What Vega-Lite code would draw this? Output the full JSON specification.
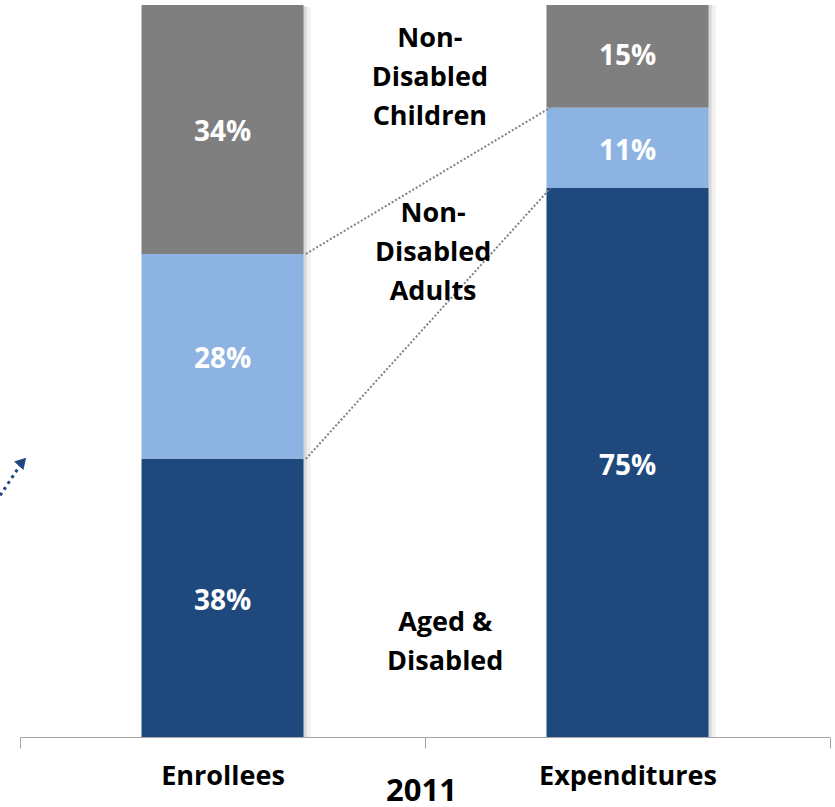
{
  "$schema": "https://vega.github.io/schema/vega-lite/v6.json",
  "width": 810,
  "height": 732,
  "autosize": "none",
  "padding": {"left": 20, "top": 5, "right": 5, "bottom": 70},
  "background": "white",
  "config": {"view": {"stroke": null}, "font": "Open Sans"},
  "datasets": {
    "bars": [
      {"cat": "Enrollees", "group": "Aged & Disabled", "ord": 1, "value": 38, "label": "38%"},
      {"cat": "Enrollees", "group": "Non-Disabled Adults", "ord": 2, "value": 28, "label": "28%"},
      {"cat": "Enrollees", "group": "Non-Disabled Children", "ord": 3, "value": 34, "label": "34%"},
      {"cat": "Expenditures", "group": "Aged & Disabled", "ord": 1, "value": 75, "label": "75%"},
      {"cat": "Expenditures", "group": "Non-Disabled Adults", "ord": 2, "value": 11, "label": "11%"},
      {"cat": "Expenditures", "group": "Non-Disabled Children", "ord": 3, "value": 15, "label": "15%"}
    ],
    "links": [
      {"link": "top", "lx": 0.706, "ly": 66},
      {"link": "top", "lx": 1.31, "ly": 86},
      {"link": "bottom", "lx": 0.706, "ly": 38},
      {"link": "bottom", "lx": 1.31, "ly": 75}
    ],
    "groups": [
      {"name": ["Non-", "Disabled", "Children"], "px": 1.012, "py": 95.4},
      {"name": ["Non-", "Disabled", "Adults"], "px": 1.02, "py": 71.4},
      {"name": ["Aged &", "Disabled"], "px": 1.05, "py": 15.6}
    ],
    "arrow": [
      {"ax": -0.049, "ay": 33.0, "part": "tail"},
      {"ax": 0.006, "ay": 37.6, "part": "tip"}
    ]
  },
  "layer": [
    {
      "data": {"name": "bars"},
      "mark": {"type": "bar", "clip": true, "color": "black", "opacity": 0.06, "xOffset": 7, "yOffset": 2},
      "encoding": {
        "x": {"field": "cat", "type": "nominal", "sort": null, "scale": {"paddingInner": 0.6, "paddingOuter": 0.3}, "axis": null},
        "y": {"field": "value", "type": "quantitative", "stack": "zero", "scale": {"domain": [0, 100], "nice": false}, "axis": null},
        "order": {"field": "ord"}
      }
    },
    {
      "data": {"name": "bars"},
      "mark": {"type": "bar", "clip": true, "color": "black", "opacity": 0.1, "xOffset": 3, "yOffset": 1},
      "encoding": {
        "x": {"field": "cat", "type": "nominal", "sort": null, "scale": {"paddingInner": 0.6, "paddingOuter": 0.3}, "axis": null},
        "y": {"field": "value", "type": "quantitative", "stack": "zero", "scale": {"domain": [0, 100], "nice": false}, "axis": null},
        "order": {"field": "ord"}
      }
    },
    {
      "data": {"name": "bars"},
      "mark": {"type": "bar", "clip": true},
      "encoding": {
        "x": {"field": "cat", "type": "nominal", "sort": null, "scale": {"paddingInner": 0.6, "paddingOuter": 0.3}, "axis": null},
        "y": {
          "field": "value", "type": "quantitative", "stack": "zero",
          "scale": {"domain": [0, 100], "nice": false}, "axis": null
        },
        "order": {"field": "ord"},
        "color": {
          "field": "group", "type": "nominal",
          "scale": {"domain": ["Aged & Disabled", "Non-Disabled Adults", "Non-Disabled Children"], "range": ["#1f497d", "#8db3e2", "#7f7f7f"]},
          "legend": null
        }
      }
    },
    {
      "data": {"name": "bars"},
      "transform": [
        {"stack": "value", "groupby": ["cat"], "sort": [{"field": "ord"}], "as": ["y0", "y1"]},
        {"calculate": "(datum.y0 + datum.y1) / 2", "as": "ymid"}
      ],
      "mark": {"type": "text", "color": "white", "font": "Open Sans", "fontWeight": "bold", "fontSize": 28, "baseline": "middle", "dy": 4},
      "encoding": {
        "x": {
          "field": "cat", "type": "nominal", "sort": null,
          "scale": {"paddingInner": 0, "paddingOuter": 0},
          "axis": {
            "title": "2011", "labelAngle": 0, "tickBand": "extent",
            "domainColor": "#a6a6a6", "tickColor": "#a6a6a6", "tickSize": 11,
            "labelFont": "Open Sans", "labelFontWeight": "bold", "labelFontSize": 27, "labelColor": "black",
            "labelPadding": 15,
            "titleFont": "Open Sans", "titleFontWeight": "bold", "titleFontSize": 31, "titleColor": "black",
            "titleX": 401, "titleY": 63, "titleBaseline": "alphabetic", "titleAlign": "center", "titleAnchor": null
          }
        },
        "y": {"field": "ymid", "type": "quantitative"},
        "text": {"field": "label"}
      }
    },
    {
      "data": {"name": "links"},
      "mark": {"type": "line", "color": "#808080", "strokeWidth": 2, "strokeDash": [2, 2]},
      "encoding": {
        "x": {"field": "lx", "type": "quantitative", "scale": {"domain": [0, 2], "nice": false, "zero": false}, "axis": null},
        "y": {"field": "ly", "type": "quantitative"},
        "detail": {"field": "link"}
      }
    },
    {
      "data": {"name": "groups"},
      "mark": {"type": "text", "font": "Open Sans", "fontWeight": "bold", "fontSize": 27, "lineHeight": 39, "color": "black", "baseline": "middle", "align": "center"},
      "encoding": {
        "x": {"field": "px", "type": "quantitative", "scale": {"domain": [0, 2], "nice": false, "zero": false}, "axis": null},
        "y": {"field": "py", "type": "quantitative"},
        "text": {"field": "name"}
      }
    },
    {
      "data": {"name": "arrow"},
      "mark": {"type": "line", "color": "#1f497d", "strokeWidth": 3, "strokeDash": [3, 4], "clip": false},
      "encoding": {
        "x": {"field": "ax", "type": "quantitative", "scale": {"domain": [0, 2], "nice": false, "zero": false}, "axis": null},
        "y": {"field": "ay", "type": "quantitative"}
      }
    },
    {
      "data": {"name": "arrow"},
      "transform": [{"filter": "datum.part == 'tip'"}],
      "mark": {"type": "point", "shape": "triangle-up", "filled": true, "color": "#1f497d", "size": 160, "angle": 42, "opacity": 1, "clip": false},
      "encoding": {
        "x": {"field": "ax", "type": "quantitative", "scale": {"domain": [0, 2], "nice": false, "zero": false}, "axis": null},
        "y": {"field": "ay", "type": "quantitative"}
      }
    }
  ],
  "resolve": {"scale": {"x": "independent"}}
}
